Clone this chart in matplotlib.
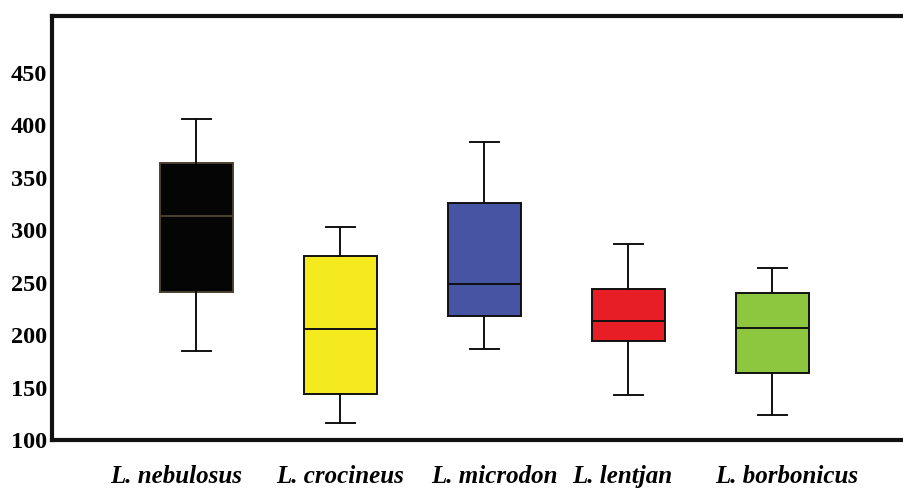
import matplotlib
matplotlib.use("Agg")
import matplotlib.pyplot as plt

species = ["L. nebulosus", "L. crocineus", "L. microdon", "L. lentjan", "L. borbonicus"]
whisker_low = [185, 116.5, 186.7, 143, 124]
q1 = [241, 144, 218, 194.6, 163.5]
median = [313, 205.7, 249, 213, 206.3]
q3 = [364, 275, 326, 243.5, 240.3]
whisker_high = [405.7, 303, 383.8, 286.7, 263.5]
colors = ["#050505", "#F4EA1E", "#4655A3", "#E81E26", "#8DC63F"]
yticks = [100, 150, 200, 250, 300, 350, 400, 450]

fig = plt.figure(figsize=(9.04, 4.90), dpi=100)
ax = fig.add_axes([52.5 / 904, 1 - 440 / 490, 864 / 904, 424 / 490])

stats = []
for i, name in enumerate(species):
    stats.append(dict(label=name, whislo=whisker_low[i], q1=q1[i], med=median[i],
                      q3=q3[i], whishi=whisker_high[i], fliers=[]))

positions = list(range(1, len(species) + 1))
bp = ax.bxp(stats, positions=positions, widths=0.507, patch_artist=True,
            showfliers=False, capwidths=0.2,
            boxprops=dict(linewidth=1.4, edgecolor="#111111"),
            whiskerprops=dict(linewidth=1.4, color="#111111"),
            capprops=dict(linewidth=1.4, color="#111111"),
            medianprops=dict(linewidth=1.4, color="#111111"))
for patch, c in zip(bp["boxes"], colors):
    patch.set_facecolor(c)
bp["boxes"][0].set_edgecolor("#4a4030")
bp["medians"][0].set_color("#4a4030")

ax.set_xlim(0, 6)
ax.set_ylim(100, 504)
ax.set_yticks(yticks)
ax.set_yticklabels([str(t) for t in yticks], fontfamily="Liberation Serif",
                   fontweight="bold", fontsize=17.5)

label_offsets = [-0.14, 0.0, 0.07, -0.04, 0.10]
ax.set_xticks([p + o for p, o in zip(positions, label_offsets)])
ax.set_xticklabels(species, fontfamily="Liberation Serif", fontweight="bold",
                   fontstyle="italic", fontsize=18)
ax.tick_params(axis="x", length=0, pad=18)
ax.tick_params(axis="y", length=0, pad=4)

for s in ["left", "top", "bottom"]:
    ax.spines[s].set_linewidth(3.0)
    ax.spines[s].set_color("#111111")
ax.spines["right"].set_visible(False)

fig.savefig("out.png", dpi=100)
